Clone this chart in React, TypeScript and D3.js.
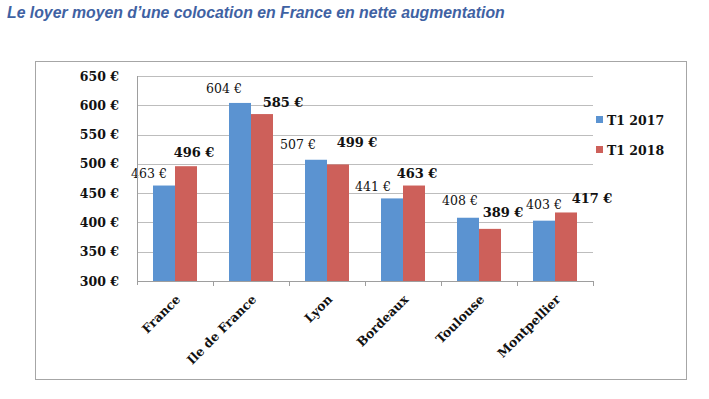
import { useEffect, useRef } from "react";
import * as d3 from "d3";

const cities = ["France", "Ile de France", "Lyon", "Bordeaux", "Toulouse", "Montpellier"];
const loyer2017 = [463, 604, 507, 441, 408, 403];
const loyer2018 = [496, 585, 499, 463, 389, 417];
const yTicks = [300, 350, 400, 450, 500, 550, 600, 650];
const seriesNames = ["T1 2017", "T1 2018"];

// Manual nudges of the data labels (dx, dy from bar top centre), as in the source
const nudge2017: [number, number][] = [[-15, -8], [-16, -10], [-18, -11], [-19, -7], [-8, -13], [0, -12]];
const nudge2018: [number, number][] = [[8, -9], [21, -7], [19, -17], [3, -8], [13, -12], [26, -9]];

const BLUE = "#5B93D1";
const RED = "#CD605A";
const SERIF = "'DejaVu Serif', 'Liberation Serif', serif";

export default function App() {
  const svgRef = useRef<SVGSVGElement>(null);

  useEffect(() => {
    if (!svgRef.current) return;
    const svg = d3.select(svgRef.current);
    svg.selectAll("*").remove();

    // ── Title ─────────────────────────────────────────
    svg.append("text")
      .attr("x", 7).attr("y", 18)
      .attr("font-family", "'Liberation Sans', Arial, sans-serif")
      .attr("font-size", 15.8)
      .attr("font-weight", "bold")
      .attr("font-style", "italic")
      .attr("fill", "#3F62A3")
      .text("Le loyer moyen d’une colocation en France en nette augmentation");

    // ── Chart frame ───────────────────────────────────
    svg.append("rect")
      .attr("x", 35.5).attr("y", 61.5)
      .attr("width", 651).attr("height", 318)
      .attr("fill", "none").attr("stroke", "#A6A6A6");

    const left = 137, right = 593, top = 76, bottom = 281;
    const x = d3.scaleBand().domain(cities).range([left, right]).paddingInner(0).paddingOuter(0);
    const y = d3.scaleLinear().domain([300, 650]).range([bottom, top]);
    const barW = 22;

    // ── Grid ──────────────────────────────────────────
    svg.append("g").selectAll("line")
      .data(yTicks.filter((t) => t > 300))
      .join("line")
      .attr("x1", left).attr("x2", right)
      .attr("y1", (d) => Math.round(y(d)) + 0.5).attr("y2", (d) => Math.round(y(d)) + 0.5)
      .attr("stroke", "#BDBDBD");

    // ── Y tick labels ─────────────────────────────────
    svg.append("g").selectAll("text")
      .data(yTicks)
      .join("text")
      .attr("x", 119).attr("y", (d) => y(d) + 4.5)
      .attr("text-anchor", "end")
      .attr("font-family", SERIF).attr("font-size", 12.5).attr("font-weight", "bold")
      .attr("fill", "#111")
      .text((d) => `${d} €`);

    // ── Bars ──────────────────────────────────────────
    const g = svg.append("g");
    cities.forEach((c, i) => {
      const cx = (x(c) ?? 0) + x.bandwidth() / 2;
      g.append("rect")
        .attr("x", cx - barW).attr("y", y(loyer2017[i]))
        .attr("width", barW).attr("height", bottom - y(loyer2017[i]))
        .attr("fill", BLUE);
      g.append("rect")
        .attr("x", cx).attr("y", y(loyer2018[i]))
        .attr("width", barW).attr("height", bottom - y(loyer2018[i]))
        .attr("fill", RED);

      g.append("text")
        .attr("x", cx - barW / 2 + nudge2017[i][0])
        .attr("y", y(loyer2017[i]) + nudge2017[i][1])
        .attr("text-anchor", "middle")
        .attr("font-family", SERIF).attr("font-size", 12.5)
        .attr("fill", "#111")
        .text(`${loyer2017[i]} €`);
      g.append("text")
        .attr("x", cx + barW / 2 + nudge2018[i][0])
        .attr("y", y(loyer2018[i]) + nudge2018[i][1])
        .attr("text-anchor", "middle")
        .attr("font-family", SERIF).attr("font-size", 13).attr("font-weight", "bold")
        .attr("fill", "#111")
        .text(`${loyer2018[i]} €`);
    });

    // ── X axis ────────────────────────────────────────
    svg.append("line")
      .attr("x1", left).attr("x2", right)
      .attr("y1", bottom + 0.5).attr("y2", bottom + 0.5)
      .attr("stroke", "#9E9E9E");
    svg.append("line")
      .attr("x1", left + 0.5).attr("x2", left + 0.5)
      .attr("y1", top).attr("y2", bottom + 4)
      .attr("stroke", "#9E9E9E");
    svg.append("g").selectAll("line")
      .data(cities)
      .join("line")
      .attr("x1", (d) => Math.round((x(d) ?? 0) + x.bandwidth()) + 0.5)
      .attr("x2", (d) => Math.round((x(d) ?? 0) + x.bandwidth()) + 0.5)
      .attr("y1", bottom).attr("y2", bottom + 5)
      .attr("stroke", "#9E9E9E");

    svg.append("g").selectAll("text")
      .data(cities)
      .join("text")
      .attr("transform", (d) => `translate(${(x(d) ?? 0) + x.bandwidth() / 2},${bottom + 13}) rotate(-45)`)
      .attr("text-anchor", "end")
      .attr("dy", "0.7em")
      .attr("font-family", SERIF).attr("font-size", 12.5).attr("font-weight", "bold")
      .attr("fill", "#111")
      .text((d) => d);

    // ── Legend ────────────────────────────────────────
    const leg = svg.append("g");
    seriesNames.forEach((s, i) => {
      leg.append("rect")
        .attr("x", 596).attr("y", 116 + i * 30)
        .attr("width", 7).attr("height", 7)
        .attr("fill", i === 0 ? BLUE : RED);
      leg.append("text")
        .attr("x", 607).attr("y", 125 + i * 30)
        .attr("font-family", SERIF).attr("font-size", 12.5).attr("font-weight", "bold")
        .attr("fill", "#111")
        .text(s);
    });
  }, []);

  return (
    <svg ref={svgRef} width={709} height={399}
      style={{ position: "absolute", left: 0, top: 0, background: "#fff" }} />
  );
}
